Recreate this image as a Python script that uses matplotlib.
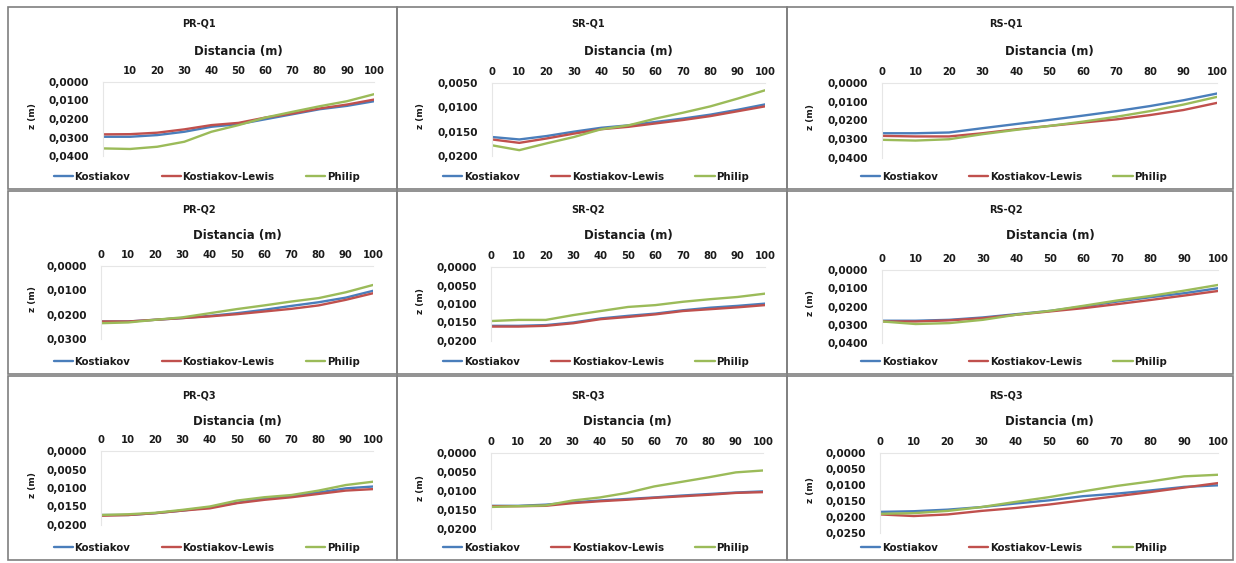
import matplotlib
matplotlib.use("Agg")
import matplotlib.pyplot as plt
from matplotlib.patches import Rectangle
from matplotlib.ticker import FuncFormatter, FixedLocator

plt.rcParams['font.family'] = ['DejaVu Sans']

distancia = [0, 10, 20, 30, 40, 50, 60, 70, 80, 90, 100]
series_names = ["Kostiakov", "Kostiakov-Lewis", "Philip"]
titles = ["PR-Q1", "SR-Q1", "RS-Q1", "PR-Q2", "SR-Q2", "RS-Q2", "PR-Q3", "SR-Q3", "RS-Q3"]

pr_q1_kost = [0.0296, 0.0296, 0.0287, 0.0269, 0.0242, 0.0228, 0.0201, 0.0174, 0.0147, 0.0129, 0.0104]
pr_q1_kl   = [0.0283, 0.0282, 0.0274, 0.0256, 0.0233, 0.0221, 0.0192, 0.0170, 0.0143, 0.0122, 0.0095]
pr_q1_phil = [0.0359, 0.0362, 0.0350, 0.0323, 0.0269, 0.0233, 0.0192, 0.0161, 0.0131, 0.0104, 0.0066]

sr_q1_kost = [0.0161, 0.0166, 0.0159, 0.0150, 0.0142, 0.0137, 0.0130, 0.0123, 0.0115, 0.0105, 0.0094]
sr_q1_kl   = [0.0166, 0.0173, 0.0164, 0.0154, 0.0145, 0.0140, 0.0133, 0.0126, 0.0118, 0.0108, 0.0098]
sr_q1_phil = [0.0178, 0.0188, 0.0174, 0.0161, 0.0145, 0.0137, 0.0123, 0.0111, 0.0098, 0.0082, 0.0065]

rs_q1_kost = [0.0268, 0.0268, 0.0264, 0.0241, 0.0219, 0.0197, 0.0174, 0.0150, 0.0123, 0.0092, 0.0056]
rs_q1_kl   = [0.0282, 0.0285, 0.0285, 0.0268, 0.0247, 0.0229, 0.0211, 0.0194, 0.0171, 0.0144, 0.0106]
rs_q1_phil = [0.0303, 0.0307, 0.0300, 0.0273, 0.0250, 0.0229, 0.0206, 0.0180, 0.0150, 0.0115, 0.0074]

pr_q2_kost = [0.0228, 0.0228, 0.0221, 0.0214, 0.0205, 0.0194, 0.0180, 0.0164, 0.0149, 0.0130, 0.0102]
pr_q2_kl   = [0.0228, 0.0228, 0.0221, 0.0214, 0.0207, 0.0198, 0.0187, 0.0176, 0.0162, 0.0139, 0.0112]
pr_q2_phil = [0.0235, 0.0232, 0.0221, 0.0211, 0.0194, 0.0177, 0.0162, 0.0146, 0.0132, 0.0108, 0.0078]

sr_q2_kost = [0.0159, 0.0159, 0.0157, 0.0150, 0.0139, 0.0132, 0.0126, 0.0117, 0.0110, 0.0105, 0.0099]
sr_q2_kl   = [0.0161, 0.0161, 0.0159, 0.0152, 0.0141, 0.0135, 0.0128, 0.0119, 0.0114, 0.0109, 0.0103]
sr_q2_phil = [0.0146, 0.0143, 0.0143, 0.0130, 0.0119, 0.0108, 0.0103, 0.0094, 0.0087, 0.0081, 0.0072]

rs_q2_kost = [0.0278, 0.0278, 0.0273, 0.0260, 0.0242, 0.0224, 0.0200, 0.0173, 0.0149, 0.0127, 0.0100]
rs_q2_kl   = [0.0282, 0.0282, 0.0276, 0.0264, 0.0245, 0.0227, 0.0209, 0.0187, 0.0164, 0.0140, 0.0115]
rs_q2_phil = [0.0282, 0.0296, 0.0291, 0.0273, 0.0245, 0.0224, 0.0196, 0.0167, 0.0142, 0.0113, 0.0082]

pr_q3_kost = [0.0173, 0.0173, 0.0168, 0.0161, 0.0152, 0.0140, 0.0128, 0.0122, 0.0112, 0.0101, 0.0096]
pr_q3_kl   = [0.0175, 0.0173, 0.0168, 0.0161, 0.0155, 0.0141, 0.0132, 0.0125, 0.0116, 0.0107, 0.0103]
pr_q3_phil = [0.0173, 0.0171, 0.0167, 0.0159, 0.0150, 0.0134, 0.0125, 0.0119, 0.0107, 0.0092, 0.0083]

sr_q3_kost = [0.0139, 0.0139, 0.0136, 0.0130, 0.0125, 0.0121, 0.0117, 0.0112, 0.0108, 0.0104, 0.0101]
sr_q3_kl   = [0.0140, 0.0140, 0.0139, 0.0132, 0.0127, 0.0123, 0.0118, 0.0114, 0.0110, 0.0105, 0.0103]
sr_q3_phil = [0.0142, 0.0140, 0.0138, 0.0125, 0.0117, 0.0105, 0.0088, 0.0076, 0.0064, 0.0051, 0.0046]

rs_q3_kost = [0.0184, 0.0182, 0.0177, 0.0169, 0.0158, 0.0148, 0.0135, 0.0127, 0.0117, 0.0106, 0.0101]
rs_q3_kl   = [0.0192, 0.0197, 0.0192, 0.0181, 0.0172, 0.0161, 0.0148, 0.0135, 0.0122, 0.0108, 0.0094]
rs_q3_phil = [0.0190, 0.0188, 0.0181, 0.0169, 0.0153, 0.0138, 0.0120, 0.0103, 0.0089, 0.0073, 0.0068]

panel_series = [
    (pr_q1_kost, pr_q1_kl, pr_q1_phil), (sr_q1_kost, sr_q1_kl, sr_q1_phil), (rs_q1_kost, rs_q1_kl, rs_q1_phil),
    (pr_q2_kost, pr_q2_kl, pr_q2_phil), (sr_q2_kost, sr_q2_kl, sr_q2_phil), (rs_q2_kost, rs_q2_kl, rs_q2_phil),
    (pr_q3_kost, pr_q3_kl, pr_q3_phil), (sr_q3_kost, sr_q3_kl, sr_q3_phil), (rs_q3_kost, rs_q3_kl, rs_q3_phil),
]
# y tick values per panel (top -> bottom)
y_ticks = [
    [0.0, 0.01, 0.02, 0.03, 0.04], [0.005, 0.01, 0.015, 0.02], [0.0, 0.01, 0.02, 0.03, 0.04],
    [0.0, 0.01, 0.02, 0.03], [0.0, 0.005, 0.01, 0.015, 0.02], [0.0, 0.01, 0.02, 0.03, 0.04],
    [0.0, 0.005, 0.01, 0.015, 0.02], [0.0, 0.005, 0.01, 0.015, 0.02], [0.0, 0.005, 0.01, 0.015, 0.02, 0.025],
]
x_ticks = [[10, 20, 30, 40, 50, 60, 70, 80, 90, 100]] + [distancia] * 8

colors = ["#4A7EBB", "#C0504D", "#9BBB59"]
TXT = "#1a1a1a"

W, H = 1236, 563
fig = plt.figure(figsize=(W / 100, H / 100), dpi=100)
fig.patch.set_facecolor("white")

# panel frames (pixels): columns and rows
cols = [(8, 397), (397, 787), (787, 1233)]
rows = [(7, 189), (191, 374), (376, 560)]
for (c0, c1) in cols:
    for (r0, r1) in rows:
        fig.add_artist(Rectangle((c0 / W, 1 - r1 / H), (c1 - c0) / W, (r1 - r0) / H,
                                 transform=fig.transFigure, fill=False,
                                 edgecolor="#7f7f7f", linewidth=1.2))

# plot areas: x0px, x100px, ytop, ybottom
areas = [
    (103, 374, 82, 156), (492, 765, 83, 156), (882, 1217, 83, 158),
    (101, 373, 266, 339), (491, 765, 267, 341), (882, 1218, 270, 343),
    (101, 373, 451, 525), (491, 763, 453, 529), (880, 1218, 453, 533),
]
row_text = [(23, 52, 177), (210, 235, 362), (395, 422, 548)]

fmt = FuncFormatter(lambda v, p: f"{v:.4f}".replace(".", ","))

for i, (ser, yt, xt, area) in enumerate(zip(panel_series, y_ticks, x_ticks, areas)):
    r, c = divmod(i, 3)
    x0, x1, yt0, yb = area
    ax = fig.add_axes([x0 / W, 1 - yb / H, (x1 - x0) / W, (yb - yt0) / H])
    for s, name, col in zip(ser, series_names, colors):
        ax.plot(distancia, s, color=col, lw=1.7, label=name, solid_capstyle="round")
    ax.set_xlim(0, 100)
    ax.set_ylim(yt[-1], yt[0])
    ax.yaxis.set_major_locator(FixedLocator(yt))
    ax.yaxis.set_major_formatter(fmt)
    ax.xaxis.set_major_locator(FixedLocator(xt))
    ax.xaxis.tick_top()
    ax.xaxis.set_label_position("top")
    ax.tick_params(axis="x", length=0, labelsize=7.2, colors=TXT, pad=4)
    ax.tick_params(axis="y", length=0, labelsize=7.6, colors=TXT, pad=10)
    for lab in ax.get_xticklabels() + ax.get_yticklabels():
        lab.set_fontweight("bold")
    for sp in ["right", "bottom"]:
        ax.spines[sp].set_visible(False)
    for sp in ["left", "top"]:
        ax.spines[sp].set_color("#e6e6e6")
        ax.spines[sp].set_linewidth(0.8)
    ax.patch.set_alpha(0)

    c0, c1 = cols[c]
    ty, dy, ly = row_text[r]
    fig.text(((c0 + c1) / 2 - 4) / W, 1 - ty / H, titles[i], ha="center", va="center",
             fontsize=7, fontweight="bold", color=TXT)
    fig.text(((x0 + x1) / 2) / W, 1 - dy / H, "Distancia (m)", ha="center", va="center",
             fontsize=8.5, fontweight="bold", color=TXT)
    fig.text((c0 + 24) / W, 1 - ((yt0 + yb) / 2 - 3) / H, "z (m)", ha="center", va="center",
             rotation=90, fontsize=6.5, fontweight="bold", color=TXT)
    leg = ax.legend(loc="center", bbox_to_anchor=(((c0 + c1) / 2 + 4) / W, 1 - ly / H),
                    bbox_transform=fig.transFigure, ncol=3, frameon=False,
                    fontsize=7.3, handlelength=1.9, handletextpad=0.15,
                    columnspacing=3.1)
    for t in leg.get_texts():
        t.set_fontweight("bold")
        t.set_color(TXT)

fig.savefig("out.png", dpi=100, facecolor="white")
